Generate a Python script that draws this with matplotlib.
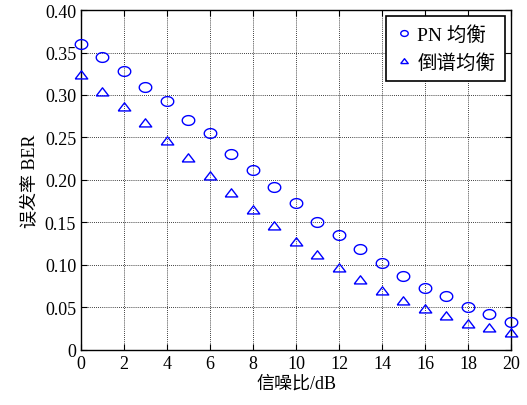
import numpy as np
import matplotlib
matplotlib.use('Agg')
import matplotlib.pyplot as plt
from matplotlib.ticker import FuncFormatter

plt.rcParams['font.family'] = ['Liberation Serif', 'Noto Sans CJK SC']

# Data
snr_db = list(range(0, 21))
ber_pn = [0.360, 0.345, 0.328, 0.309, 0.293, 0.271, 0.255, 0.231, 0.212, 0.192,
          0.173, 0.150, 0.135, 0.119, 0.102, 0.087, 0.073, 0.064, 0.051, 0.042, 0.033]
ber_cep = [0.323, 0.304, 0.286, 0.267, 0.246, 0.226, 0.205, 0.185, 0.165, 0.146,
           0.127, 0.112, 0.096, 0.082, 0.069, 0.058, 0.048, 0.040, 0.031, 0.026, 0.020]
x_ticks = list(range(0, 21, 2))
y_ticks = [0, 0.05, 0.10, 0.15, 0.20, 0.25, 0.30, 0.35, 0.40]

# slightly flattened markers, like the reference
t = np.linspace(0, 2 * np.pi, 60)
ellipse = list(zip(np.cos(t), 0.78 * np.sin(t)))
tri = [(-1, -0.55), (1, -0.55), (0, 0.75), (-1, -0.55)]

fig = plt.figure(figsize=(5.27, 4.06), dpi=100)
ax = fig.add_axes([0.1537, 0.1355, 0.8159, 0.8374])

ax.plot(snr_db, ber_pn, linestyle='none', marker=ellipse, markersize=9,
        markerfacecolor='none', markeredgecolor='#0000ff', markeredgewidth=1.0,
        label='PN 均衡', clip_on=False, zorder=5)
ax.plot(snr_db, ber_cep, linestyle='none', marker=tri, markersize=9,
        markerfacecolor='none', markeredgecolor='#0000ff', markeredgewidth=1.0,
        label='倒谱均衡', clip_on=False, zorder=5)

ax.set_xlim(0, 20)
ax.set_ylim(0, 0.40)
ax.set_xticks(x_ticks)
ax.set_yticks(y_ticks)
ax.yaxis.set_major_formatter(FuncFormatter(lambda v, p: '0' if v == 0 else f'{v:.2f}'))

ax.grid(True, color='black', linestyle=(0, (1, 1.5)), linewidth=0.6)
ax.tick_params(direction='in', length=4, labelsize=13, top=True, right=True,
               color='black')
for s in ax.spines.values():
    s.set_linewidth(1.0)

ax.set_xlabel('信噪比/dB', fontsize=13, labelpad=2)
ax.set_ylabel('误发率 BER', fontsize=13, labelpad=4)

leg = ax.legend(loc='upper right', fontsize=14, frameon=True, fancybox=False,
                edgecolor='black', framealpha=1, handletextpad=0.3,
                handlelength=0.8, borderaxespad=0.3, borderpad=0.5,
                labelspacing=0.45, markerscale=0.6)
leg.get_frame().set_linewidth(1.2)

fig.savefig('out.png', dpi=100)
